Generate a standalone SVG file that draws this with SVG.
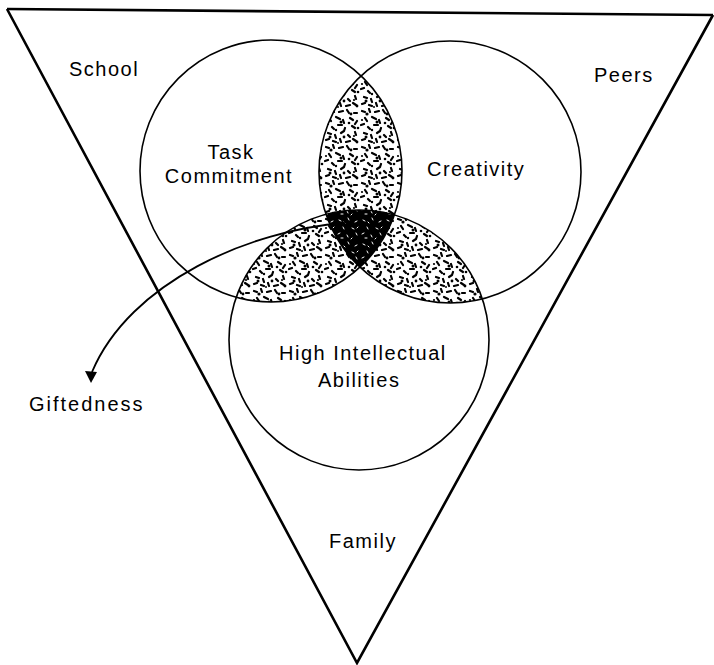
<svg xmlns="http://www.w3.org/2000/svg" width="714" height="665" viewBox="0 0 714 665">
<style>
  .lbl { font-family: "Liberation Sans", Arial, sans-serif; font-size: 20px; letter-spacing: 1.5px; fill: #000; }
  .circ { fill: none; stroke: #000; stroke-width: 1.6; }
  .edge { fill: none; stroke: #000; stroke-width: 2.6; stroke-linejoin: miter; }
  .conn { fill: none; stroke: #000; stroke-width: 1.8; }
</style>
<defs>
  <clipPath id="cL"><circle cx="271" cy="171" r="131"/></clipPath>
  <clipPath id="cR"><circle cx="450" cy="172" r="131"/></clipPath>
  <clipPath id="cB"><circle cx="359" cy="340" r="130"/></clipPath>
  <pattern id="stip" width="36" height="36" patternUnits="userSpaceOnUse">
    <rect width="36" height="36" fill="#fff"/>
    <g stroke="#000" stroke-width="2.2" stroke-linecap="round" fill="none">
      <path d="M2 3l3 1M9 1l1 3M15 4l4-1M23 2l2 3M30 5l3 0M5 10l2 3M12 9l4 2M19 12l1 3M26 10l3 2M33 13l-2 3M1 17l3-1M8 19l2 2M14 17l4 0M21 20l-1 3M28 18l3 2M4 25l3 1M11 27l1 3M17 25l3-2M24 27l2 2M31 24l1 3M2 32l3-1M9 33l3 1M16 31l1 3M22 34l4-1M29 31l3 2"/>
    </g>
    <g fill="#000">
      <circle cx="7" cy="6" r="1.6"/><circle cx="27" cy="6" r="1.4"/><circle cx="17" cy="14" r="1.5"/>
      <circle cx="34" cy="20" r="1.3"/><circle cx="6" cy="29" r="1.5"/><circle cx="20" cy="29" r="1.4"/>
      <circle cx="33" cy="34" r="1.4"/><circle cx="12" cy="22" r="1.2"/><circle cx="25" cy="15" r="1.3"/>
      <circle cx="2" cy="12" r="1.1"/><circle cx="30" cy="28" r="1.1"/><circle cx="14" cy="35" r="1"/>
    </g>
  </pattern>
  <pattern id="dark" width="24" height="24" patternUnits="userSpaceOnUse">
    <rect width="24" height="24" fill="#000"/>
    <g stroke="#fff" stroke-width="1" stroke-linecap="round" fill="none">
      <path d="M3 4l2 1M12 2l1 2M19 6l2-1M7 11l1 2M16 12l2 1M2 18l2-1M11 19l1 2M20 17l1 2M8 6l1 1M22 11l-1 1M5 22l2 0M15 23l1-1"/>
    </g>
  </pattern>
</defs>

<g id="environment">
  <path class="edge" d="M7 9 L713 15"/>
  <path class="edge" d="M7 9 L357 663 L713 15"/>
</g>

<g id="shading">
  <g clip-path="url(#cL)"><rect x="100" y="30" width="500" height="460" clip-path="url(#cR)" fill="url(#stip)"/></g>
  <g clip-path="url(#cL)"><rect x="100" y="30" width="500" height="460" clip-path="url(#cB)" fill="url(#stip)"/></g>
  <g clip-path="url(#cR)"><rect x="100" y="30" width="500" height="460" clip-path="url(#cB)" fill="url(#stip)"/></g>
  <g clip-path="url(#cL)"><g clip-path="url(#cR)"><rect x="100" y="30" width="500" height="460" clip-path="url(#cB)" fill="url(#dark)"/></g></g>
</g>

<g id="task-commitment">
  <circle class="circ" cx="271" cy="171" r="131"/>
  <text class="lbl" x="231" y="159" text-anchor="middle">Task</text>
  <text class="lbl" x="229" y="183" text-anchor="middle">Commitment</text>
</g>
<g id="creativity">
  <circle class="circ" cx="450" cy="172" r="131"/>
  <text class="lbl" x="427" y="176">Creativity</text>
</g>
<g id="high-intellectual-abilities">
  <circle class="circ" cx="359" cy="340" r="130"/>
  <text class="lbl" x="279" y="360">High Intellectual</text>
  <text class="lbl" x="318" y="387">Abilities</text>
</g>

<g id="school"><text class="lbl" x="69" y="76">School</text></g>
<g id="peers"><text class="lbl" x="594" y="82">Peers</text></g>
<g id="family"><text class="lbl" x="329" y="548">Family</text></g>
<g id="giftedness"><text class="lbl" x="29" y="411" style="letter-spacing:2px">Giftedness</text></g>

<g id="connectors">
  <path class="conn" d="M345 223 C 250 230 130 282 92 372"/>
  <path d="M85 371 L97 372 L91 383 Z" fill="#000"/>
</g>
</svg>
